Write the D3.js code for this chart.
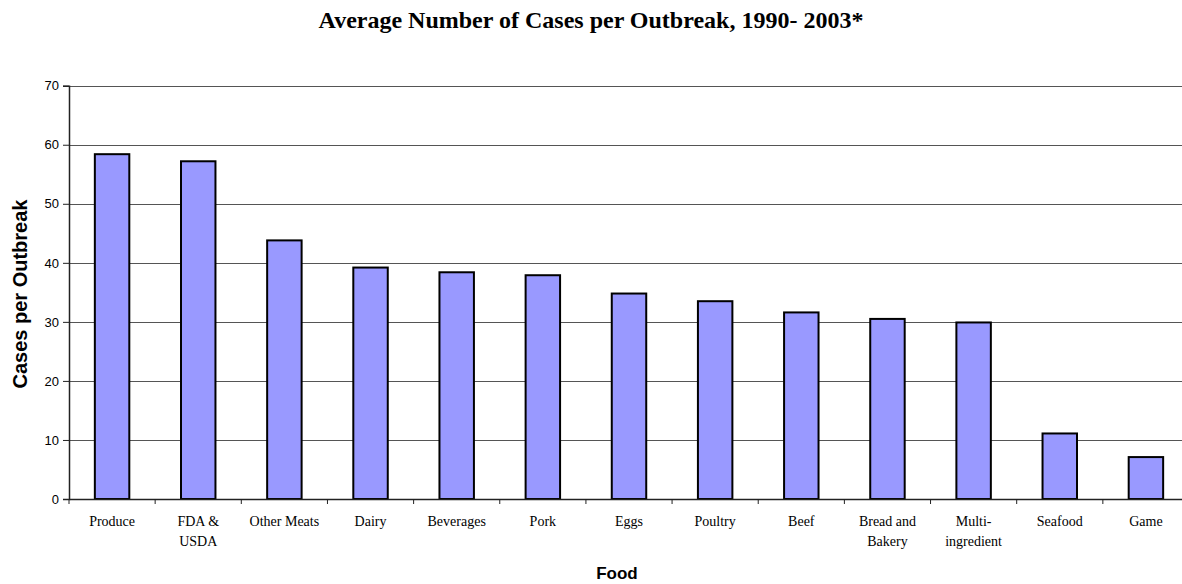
<!DOCTYPE html>
<html>
<head>
<meta charset="utf-8">
<script src="https://cdn.jsdelivr.net/npm/d3@7"></script>
<style>
  html, body { margin: 0; padding: 0; background: #fff; }
  svg { display: block; }
</style>
</head>
<body>
<svg id="chart" width="1182" height="584"></svg>
<script>
// Food categories, second line of each label split with "|"
const categories = ["Produce", "FDA &|USDA", "Other Meats", "Dairy", "Beverages", "Pork", "Eggs",
  "Poultry", "Beef", "Bread and|Bakery", "Multi-|ingredient", "Seafood", "Game"];
// Average cases per outbreak
const casesPerOutbreak = [58.4, 57.2, 43.8, 39.2, 38.4, 37.9, 34.8, 33.5, 31.6, 30.5, 29.9, 11.1, 7.1];
const yTicks = [0, 10, 20, 30, 40, 50, 60, 70];

const svg = d3.select("#chart");
const plotLeft = 69, plotRight = 1189, plotTop = 85.7, plotBottom = 499;

const x = d3.scaleBand().domain(categories).range([plotLeft, plotRight]).paddingInner(0).paddingOuter(0);
const y = d3.scaleLinear().domain([0, 70]).range([plotBottom, plotTop]);

// Title
svg.append("text")
  .attr("x", 591).attr("y", 28)
  .attr("text-anchor", "middle")
  .attr("font-family", "Liberation Serif, Times New Roman, serif")
  .attr("font-weight", "bold").attr("font-size", 24)
  .text("Average Number of Cases per Outbreak, 1990- 2003*");

// Gridlines
svg.append("g").selectAll("line").data(yTicks.filter(d => d > 0)).join("line")
  .attr("x1", plotLeft).attr("x2", plotRight)
  .attr("y1", d => Math.round(y(d)) + 0.5).attr("y2", d => Math.round(y(d)) + 0.5)
  .attr("stroke", "#555").attr("stroke-width", 1);

// Bars
const bw = x.bandwidth() / 2.5;
svg.append("g").selectAll("rect").data(categories).join("rect")
  .attr("x", d => x(d) + (x.bandwidth() - bw) / 2)
  .attr("width", bw)
  .attr("y", (d, i) => y(casesPerOutbreak[i]))
  .attr("height", (d, i) => y(0) - y(casesPerOutbreak[i]))
  .attr("fill", "#9999FF").attr("stroke", "#000").attr("stroke-width", 2);

// Y axis
const yAxis = svg.append("g").attr("transform", `translate(${plotLeft},0)`)
  .call(d3.axisLeft(y).tickValues(yTicks).tickSize(6).tickPadding(4).tickFormat(d3.format("d")));
yAxis.select(".domain").attr("stroke", "#222").attr("stroke-width", 1.5);
yAxis.selectAll(".tick line").attr("stroke", "#222");
yAxis.selectAll("text").attr("font-family", "Liberation Sans, Arial, sans-serif").attr("font-size", 13).attr("fill", "#000");

// X axis
const xAxis = svg.append("g").attr("transform", `translate(0,${plotBottom})`)
  .call(d3.axisBottom(x).tickSize(0).tickFormat(""));
xAxis.select(".domain").attr("stroke", "#222").attr("stroke-width", 1.5);
xAxis.selectAll(".tick").remove();

// Category boundary tick marks
svg.append("g").selectAll("line").data(d3.range(categories.length + 1)).join("line")
  .attr("x1", i => plotLeft + i * x.step()).attr("x2", i => plotLeft + i * x.step())
  .attr("y1", plotBottom).attr("y2", plotBottom + 5)
  .attr("stroke", "#222").attr("stroke-width", 1);

// Category labels
svg.append("g").selectAll("text").data(categories).join("text")
  .attr("x", d => x(d) + x.bandwidth() / 2)
  .attr("y", 526)
  .attr("text-anchor", "middle")
  .attr("font-family", "Liberation Serif, Times New Roman, serif")
  .attr("font-size", 14)
  .each(function(d) {
    const parts = d.split("|");
    d3.select(this).selectAll("tspan").data(parts).join("tspan")
      .attr("x", x(d) + x.bandwidth() / 2)
      .attr("dy", (p, k) => k === 0 ? 0 : 20)
      .text(p => p);
  });

// Axis titles
svg.append("text")
  .attr("x", 617).attr("y", 579)
  .attr("text-anchor", "middle")
  .attr("font-family", "Liberation Sans, Arial, sans-serif")
  .attr("font-weight", "bold").attr("font-size", 17)
  .text("Food");

svg.append("text")
  .attr("transform", "translate(27,294) rotate(-90)")
  .attr("text-anchor", "middle")
  .attr("font-family", "Liberation Sans, Arial, sans-serif")
  .attr("font-weight", "bold").attr("font-size", 20)
  .text("Cases per Outbreak");
</script>
</body>
</html>
